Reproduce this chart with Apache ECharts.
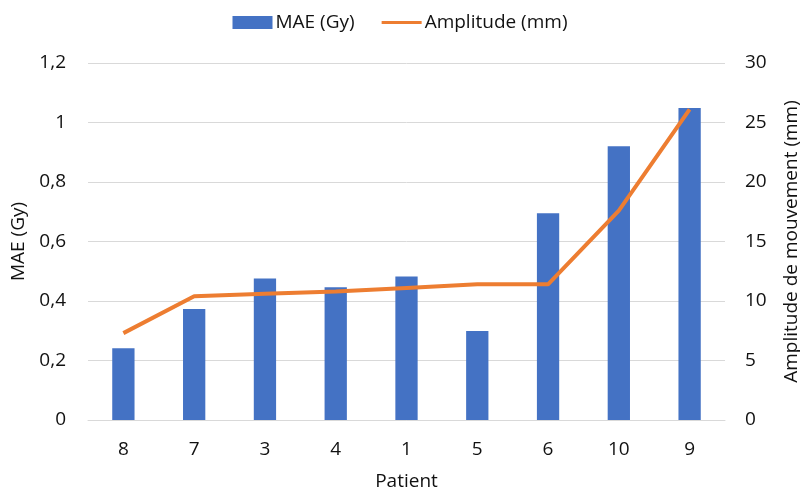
<!DOCTYPE html>
<html>
<head>
<meta charset="utf-8">
<script src="https://cdn.jsdelivr.net/npm/echarts@6/dist/echarts.min.js"></script>
<style>
  html, body { margin: 0; padding: 0; background: #fff; }
  #main { width: 800px; height: 494px; }
</style>
</head>
<body>
<div id="main"></div>
<script>
// patients, ordered by amplitude
var patients = ['8', '7', '3', '4', '1', '5', '6', '10', '9']
var mae = [0.241, 0.373, 0.476, 0.446, 0.482, 0.299, 0.695, 0.92, 1.049]
var amplitude = [7.3, 10.4, 10.6, 10.8, 11.1, 11.4, 11.4, 17.6, 26.1]

var textColor = '#111'
var font = '"Open Sans", sans-serif'
var fs = 19

var myChart = echarts.init(document.getElementById('main'))
myChart.setOption({
    animation: false,
    textStyle: { fontFamily: font, color: textColor },
    legend: {
        top: 8,
        left: 'center',
        itemGap: 27,
        itemWidth: 40,
        itemHeight: 13,
        textStyle: { fontSize: fs, color: textColor, fontFamily: font, padding: [0, 0, 0, -2] },
        data: [
            { name: 'MAE (Gy)', icon: 'rect' },
            { name: 'Amplitude (mm)', icon: 'path://M0,5 L40,5 L40,8 L0,8 Z' }
        ]
    },
    grid: { left: 88, right: 75, top: 63, bottom: 74, containLabel: false, outerBoundsMode: 'none' },
    xAxis: {
        type: 'category',
        data: patients,
        name: 'Patient',
        nameLocation: 'middle',
        nameGap: 52,
        nameTextStyle: { fontSize: fs, color: textColor },
        axisLine: { lineStyle: { color: '#d9d9d9', width: 1 } },
        axisTick: { show: false },
        axisLabel: { fontSize: fs, color: textColor, margin: 20 }
    },
    yAxis: [
        {
            type: 'value',
            min: 0, max: 1.2, interval: 0.2,
            name: 'MAE (Gy)',
            nameLocation: 'middle',
            nameGap: 52,
            nameTextStyle: { fontSize: fs, color: textColor },
            axisLabel: {
                fontSize: fs, color: textColor, margin: 22,
                formatter: function (v) { return String(Math.round(v * 10) / 10).replace('.', ',') }
            },
            splitLine: { lineStyle: { color: '#d9d9d9', width: 1 } },
            axisLine: { show: false },
            axisTick: { show: false }
        },
        {
            type: 'value',
            min: 0, max: 30, interval: 5,
            name: 'Amplitude de mouvement (mm)',
            nameLocation: 'middle',
            nameGap: 57,
            nameTextStyle: { fontSize: fs, color: textColor },
            axisLabel: { fontSize: fs, color: textColor, margin: 20 },
            splitLine: { show: false },
            axisLine: { show: false },
            axisTick: { show: false }
        }
    ],
    series: [
        {
            name: 'MAE (Gy)',
            type: 'bar',
            yAxisIndex: 0,
            data: mae,
            barWidth: '31.5%',
            itemStyle: { color: '#4472c4' }
        },
        {
            name: 'Amplitude (mm)',
            type: 'line',
            yAxisIndex: 1,
            data: amplitude,
            symbol: 'none',
            lineStyle: { color: '#ed7d31', width: 4 },
            itemStyle: { color: '#ed7d31' }
        }
    ]
})
</script>
</body>
</html>
